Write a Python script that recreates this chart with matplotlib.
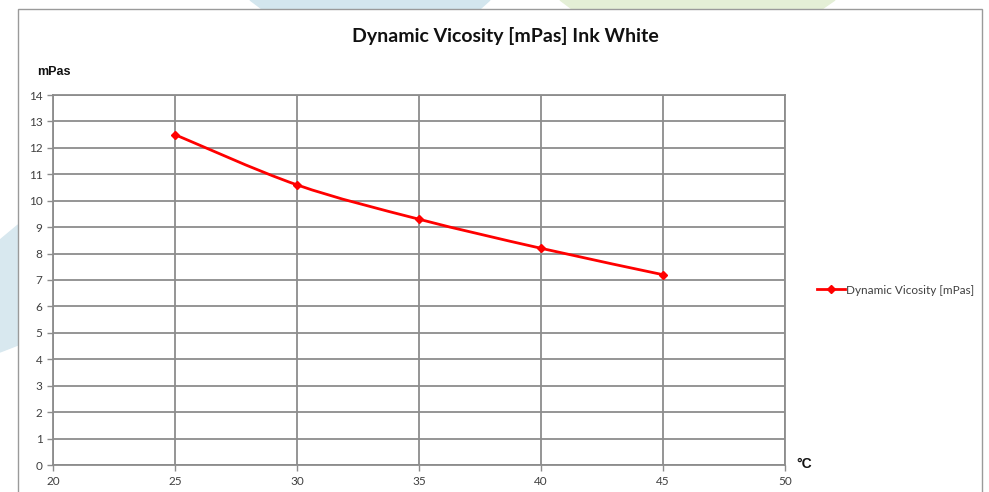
import matplotlib.pyplot as plt
from matplotlib.path import Path
from matplotlib.patches import PathPatch, Rectangle, Polygon
from matplotlib.lines import Line2D

# measured viscosity of the white ink
temps = [25, 30, 35, 40, 45]
viscosity = [12.5, 10.6, 9.3, 8.2, 7.2]
series_name = "Dynamic Vicosity [mPas]"
title = "Dynamic Vicosity [mPas] Ink White"

RED = "#ff0000"
GRID = "#8c8c8c"
TXT = "#404040"

plt.rcParams["font.family"] = ["Lato", "DejaVu Sans"]

fig = plt.figure(figsize=(9.89, 4.92), dpi=100)

# faint decorations behind the chart frame
fig.patches.append(Polygon([(250/989, 1), (490/989, 1), (480/989, 1-9/492), (262/989, 1-9/492)],
                           closed=True, transform=fig.transFigure, color="#d3e6ee", zorder=0))
fig.patches.append(Polygon([(560/989, 1), (835/989, 1), (822/989, 1-9/492), (572/989, 1-9/492)],
                           closed=True, transform=fig.transFigure, color="#e4efd6", zorder=0))
fig.patches.append(Polygon([(0, 1-240/492), (18/989, 1-225/492), (18/989, 1-345/492), (0, 1-352/492)],
                           closed=True, transform=fig.transFigure, color="#d8e8ef", zorder=0))
# chart frame
fig.patches.append(Rectangle((18/989, -0.05), (982-18)/989, 1.05-9/492,
                             transform=fig.transFigure, fill=False, ec="#9a9a9a", lw=1.0, zorder=1))

ax = fig.add_axes([53/989, 1-465/492, (785-53)/989, (465-95)/492])
ax.set_xlim(20, 50)
ax.set_ylim(0, 14)
ax.set_xticks(range(20, 51, 5))
ax.set_yticks(range(0, 15))
ax.grid(True, color=GRID, lw=1.3)
ax.set_axisbelow(True)
for s in ax.spines.values():
    s.set_color(GRID)
    s.set_linewidth(1.3)
ax.tick_params(colors=GRID, labelcolor=TXT, labelsize=8.5, length=4, width=1.0)
ax.tick_params(axis="x", pad=4)

# smoothed line through the points (Catmull-Rom style bezier segments)
verts = [(temps[0], viscosity[0])]
codes = [Path.MOVETO]
n = len(temps)
for i in range(n - 1):
    p0 = (temps[max(i-1, 0)], viscosity[max(i-1, 0)])
    p1 = (temps[i], viscosity[i])
    p2 = (temps[i+1], viscosity[i+1])
    p3 = (temps[min(i+2, n-1)], viscosity[min(i+2, n-1)])
    c1 = (p1[0] + (p2[0]-p0[0])/6, p1[1] + (p2[1]-p0[1])/6)
    c2 = (p2[0] - (p3[0]-p1[0])/6, p2[1] - (p3[1]-p1[1])/6)
    verts += [c1, c2, p2]
    codes += [Path.CURVE4] * 3
ax.add_patch(PathPatch(Path(verts, codes), fill=False, ec=RED, lw=2.0, zorder=3))
ax.plot(temps, viscosity, ls="none", marker="D", ms=4.5, color=RED, zorder=4)

fig.text(505/989, 1-36/492, title, ha="center", va="center", fontsize=14, fontweight="bold", color="#111111")
fig.text(37/989, 1-72/492, "mPas", ha="left", va="center", fontsize=9, fontweight="bold",
         family=["Liberation Sans", "DejaVu Sans"], color="#111111")
fig.text(796/989, 1-464/492, "°C", ha="left", va="center", fontsize=10, fontweight="bold",
         family=["Liberation Sans", "DejaVu Sans"], color="#111111")

handle = Line2D([], [], color=RED, lw=2.0, marker="D", ms=4)
fig.legend([handle], [series_name], loc="center left", bbox_to_anchor=(806/989, 1-290/492),
           frameon=False, fontsize=8.5, handlelength=2.4, handletextpad=0.1, labelcolor=TXT)

fig.savefig("out.png", dpi=100)
